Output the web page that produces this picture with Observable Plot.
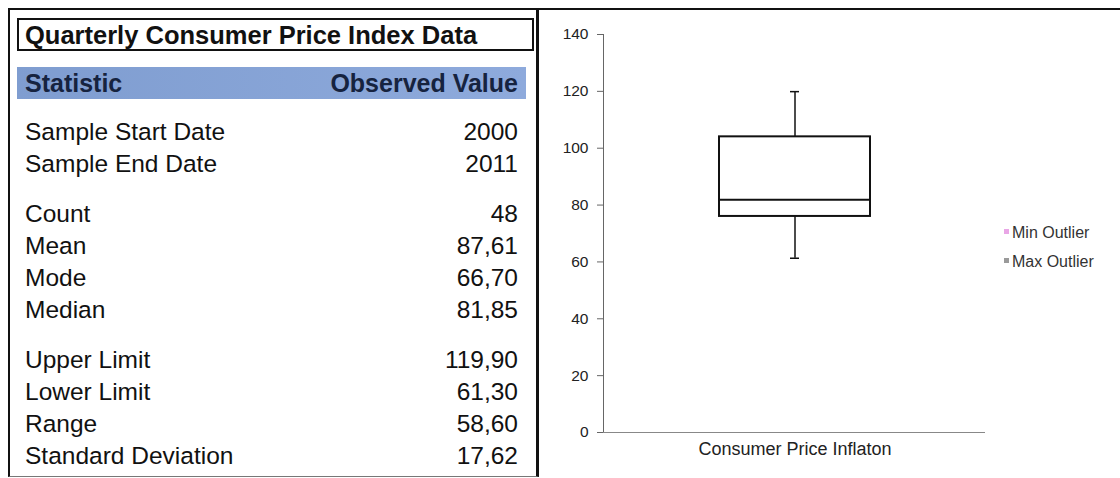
<!DOCTYPE html>
<html>
<head>
<meta charset="utf-8">
<script src="https://cdn.jsdelivr.net/npm/d3@7"></script>
<script src="https://cdn.jsdelivr.net/npm/@observablehq/plot@0.6"></script>
<style>
  html, body { margin: 0; padding: 0; background: #fff; }
  body { width: 1120px; height: 478px; position: relative; overflow: hidden;
         font-family: "Liberation Sans", Arial, sans-serif; color: #111; }
  #left { position: absolute; left: 8px; top: 8px; width: 526px; height: 466px;
          border: 2px solid #111; border-right-width: 3px; border-bottom-color: #777; border-bottom-width: 1px; }
  #title { position: absolute; left: 7px; top: 8px; width: 507px; height: 29px;
           border: 2px solid #111; font-weight: bold; font-size: 25.5px; line-height: 30px;
           padding-left: 6px; box-sizing: content-box; white-space: nowrap; }
  #head { position: absolute; left: 7px; top: 57px; width: 509px; height: 32px;
          background: linear-gradient(90deg, #7f9dd0, #8eaadc); color: #16233f;
          font-weight: bold; font-size: 25px; line-height: 33px; white-space: nowrap; }
  #head span.l { position: absolute; left: 8px; }
  #head span.r { position: absolute; right: 8px; }
  #rows { position: absolute; left: 7px; top: 106px; width: 509px; }
  .row { position: relative; height: 32px; line-height: 32px; font-size: 24.5px; white-space: nowrap; }
  .row.gap { margin-top: 18px; }
  .row .l { position: absolute; left: 8px; }
  .row .r { position: absolute; right: 8px; }
  #right { position: absolute; left: 539px; top: 8px; width: 581px; height: 468px;
           border-top: 2px solid #111; border-bottom: 1px solid #999; }
  #chart { position: absolute; left: 0; top: 0; }
  #legend { position: absolute; left: 465px; top: 212px; font-size: 16px; color: #333; }
  #legend div { height: 29px; line-height: 22px; white-space: nowrap; }
  #legend i { display: inline-block; width: 5px; height: 5px; margin-right: 3px; vertical-align: middle; position: relative; top: -2px; }
</style>
</head>
<body>
<div id="left">
  <div id="title"></div>
  <div id="head"><span class="l"></span><span class="r"></span></div>
  <div id="rows"></div>
</div>
<div id="right">
  <div id="chart"></div>
  <div id="legend"></div>
</div>
<script>
// Summary table
const tableTitle = "Quarterly Consumer Price Index Data";
const headers = ["Statistic", "Observed Value"];
const statLabels = ["Sample Start Date", "Sample End Date", "Count", "Mean", "Mode", "Median",
                    "Upper Limit", "Lower Limit", "Range", "Standard Deviation"];
const statValues = ["2000", "2011", "48", "87,61", "66,70", "81,85",
                    "119,90", "61,30", "58,60", "17,62"];
const groupStarts = [2, 6];

// Box plot summary
const categories = ["Consumer Price Inflaton"];
const lowerWhisker = [61.3];
const firstQuartile = [76];
const medians = [81.85];
const thirdQuartile = [104];
const upperWhisker = [119.9];
const yTicks = [0, 20, 40, 60, 80, 100, 120, 140];
const legendLabels = ["Min Outlier", "Max Outlier"];
const legendColors = ["#e9a6e6", "#9a9a9a"];

document.getElementById("title").textContent = tableTitle;
document.querySelector("#head .l").textContent = headers[0];
document.querySelector("#head .r").textContent = headers[1];
const rows = document.getElementById("rows");
statLabels.forEach((label, i) => {
  const row = document.createElement("div");
  row.className = "row" + (groupStarts.includes(i) ? " gap" : "");
  const l = document.createElement("span"); l.className = "l"; l.textContent = label;
  const r = document.createElement("span"); r.className = "r"; r.textContent = statValues[i];
  row.append(l, r);
  rows.append(row);
});

const boxes = categories.map((c, i) => ({
  c, lo: lowerWhisker[i], q1: firstQuartile[i], med: medians[i], q3: thirdQuartile[i], hi: upperWhisker[i]
}));

const chart = Plot.plot({
  width: 581,
  height: 466,
  marginLeft: 64,
  marginTop: 24,
  marginBottom: 44,
  marginRight: 135,
  style: { fontFamily: "'Liberation Sans', Arial, sans-serif", fontSize: "15px", color: "#222", background: "transparent", overflow: "visible" },
  x: { domain: categories, padding: 0.434 },
  y: { domain: [0, 140] },
  marks: [
    Plot.frame({ anchor: "left", stroke: "#666" }),
    Plot.ruleY([0], { stroke: "#888" }),
    Plot.axisY({ ticks: yTicks, tickSize: 6, tickPadding: 9, fontSize: 15.5, label: null, stroke: "#666", fill: "#222" }),
    Plot.axisX({ tickSize: 0, tickPadding: 10, fontSize: 18, label: null, fill: "#222" }),
    Plot.ruleX(boxes, { x: "c", y1: "lo", y2: "q1", stroke: "#111", strokeWidth: 1.5 }),
    Plot.ruleX(boxes, { x: "c", y1: "q3", y2: "hi", stroke: "#111", strokeWidth: 1.5 }),
    Plot.tickY(boxes, { x: "c", y: "lo", stroke: "#111", strokeWidth: 1.5, insetLeft: 71, insetRight: 71 }),
    Plot.tickY(boxes, { x: "c", y: "hi", stroke: "#111", strokeWidth: 1.5, insetLeft: 71, insetRight: 71 }),
    Plot.barY(boxes, { x: "c", y1: "q1", y2: "q3", fill: "white", stroke: "#111", strokeWidth: 2 }),
    Plot.tickY(boxes, { x: "c", y: "med", stroke: "#111", strokeWidth: 2 })
  ]
});
document.getElementById("chart").append(chart);

const legend = document.getElementById("legend");
legendLabels.forEach((t, i) => {
  const d = document.createElement("div");
  const sw = document.createElement("i"); sw.style.background = legendColors[i];
  d.append(sw, document.createTextNode(t));
  legend.append(d);
});
</script>
</body>
</html>
